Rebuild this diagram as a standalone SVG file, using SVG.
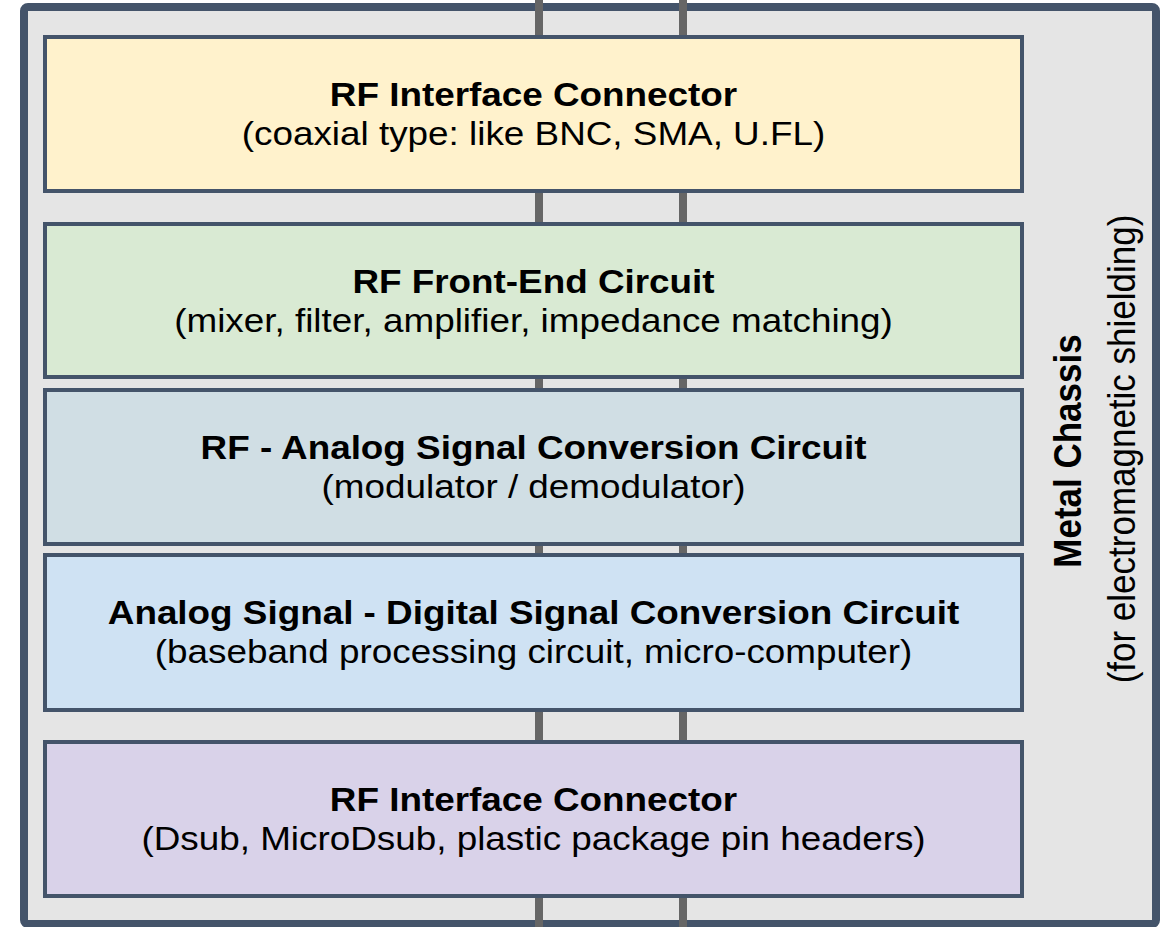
<svg xmlns="http://www.w3.org/2000/svg" width="1173" height="927" viewBox="0 0 1173 927">
<style>
.box{stroke:#44546A;stroke-width:4}
.t{font-family:"Liberation Sans",Arial,sans-serif;font-size:33.5px;fill:#000;text-anchor:middle}
.v{font-size:35px}
.b{font-weight:bold}
.wire{stroke:#666666;stroke-width:8}
</style>
<rect id="chassis" x="24" y="7" width="1132" height="917" fill="#E5E5E5" stroke="#44546A" stroke-width="8" rx="4"/>
<g id="connectors">
<line class="wire" x1="539" y1="0" x2="539" y2="927"/>
<line class="wire" x1="683" y1="0" x2="683" y2="927"/>
</g>
<g id="node1">
<rect class="box" x="45" y="37" width="977" height="154" fill="#FFF2CC"/>
<text class="t b" transform="translate(533.5,106) scale(1.1,1)">RF Interface Connector</text>
<text class="t" transform="translate(533.5,145) scale(1.1,1)">(coaxial type: like BNC, SMA, U.FL)</text>
</g>
<g id="node2">
<rect class="box" x="45" y="224" width="977" height="153" fill="#D9EAD3"/>
<text class="t b" transform="translate(533.5,293) scale(1.1,1)">RF Front-End Circuit</text>
<text class="t" transform="translate(533.5,332) scale(1.1,1)">(mixer, filter, amplifier, impedance matching)</text>
</g>
<g id="node3">
<rect class="box" x="45" y="390" width="977" height="154" fill="#D0DEE4"/>
<text class="t b" transform="translate(533.5,459) scale(1.1,1)">RF - Analog Signal Conversion Circuit</text>
<text class="t" transform="translate(533.5,498) scale(1.1,1)">(modulator / demodulator)</text>
</g>
<g id="node4">
<rect class="box" x="45" y="555" width="977" height="155" fill="#CFE2F3"/>
<text class="t b" transform="translate(533.5,624) scale(1.1,1)">Analog Signal - Digital Signal Conversion Circuit</text>
<text class="t" transform="translate(533.5,663) scale(1.1,1)">(baseband processing circuit, micro-computer)</text>
</g>
<g id="node5">
<rect class="box" x="45" y="742" width="977" height="154" fill="#D9D2E9"/>
<text class="t b" transform="translate(533.5,811) scale(1.1,1)">RF Interface Connector</text>
<text class="t" transform="translate(533.5,850) scale(1.1,1)">(Dsub, MicroDsub, plastic package pin headers)</text>
</g>
<g id="chassis-label">
<text class="t v b" transform="translate(1081,451) scale(1.1,1) rotate(-90)">Metal Chassis</text>
<text class="t v" transform="translate(1135,449) scale(1.1,1) rotate(-90)">(for electromagnetic shielding)</text>
</g>
</svg>
